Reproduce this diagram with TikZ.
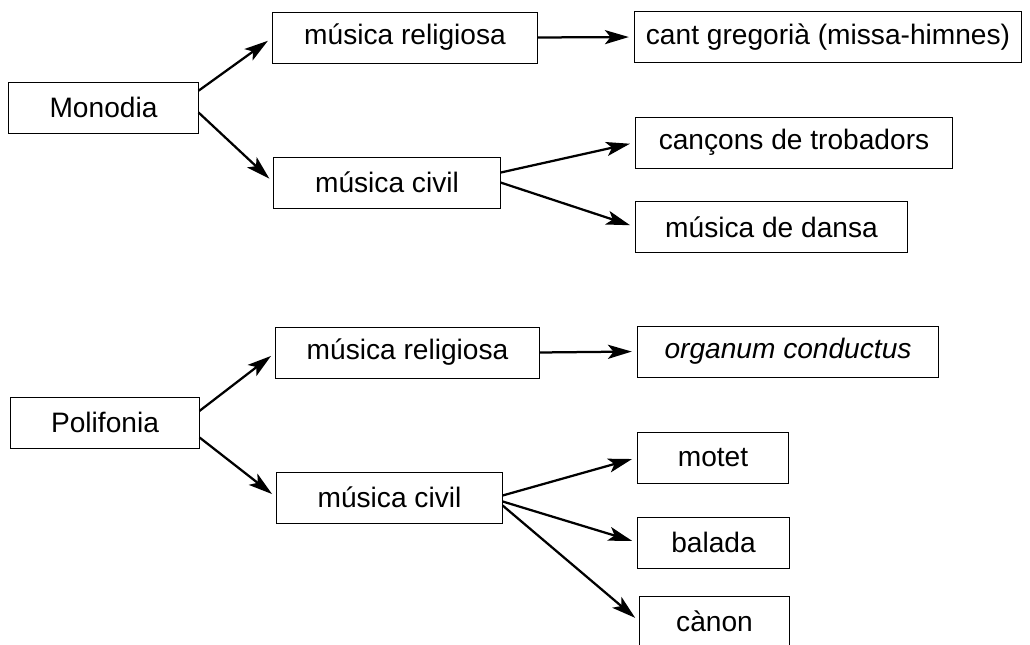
\documentclass[tikz,border=0pt]{standalone}
\usepackage{fontspec}
\setmainfont{Liberation Sans}
\usetikzlibrary{arrows.meta}

\begin{document}
\begin{tikzpicture}[x=0.025cm,y=-0.025cm,
  font=\fontsize{20}{24}\selectfont,
  box/.style={draw,line width=0.7pt,minimum height=1.275cm,inner sep=0pt},
  arr/.style={-{Stealth[length=17pt,width=10pt,inset=4pt]},line width=1.6pt,shorten >=4pt}]
\useasboundingbox (0,0) rectangle (1030,644);

\node[box,minimum width=4.725cm] (mono) at (103.5,107.5) {Monodia};
\node[box,minimum width=6.6cm] (relA) at (405,37.5) {música religiosa};
\node[box,minimum width=9.65cm] (greg) at (828,37) {cant gregorià (missa-himnes)};
\node[box,minimum width=5.65cm] (civA) at (387,182.5) {música civil};
\node[box,minimum width=7.9cm] (trob) at (794,142.5) {cançons de trobadors};
\node[box,minimum width=6.775cm] (dansa) at (771.5,227) {música de dansa};

\node[box,minimum width=4.7cm] (poli) at (105,422.5) {Polifonia};
\node[box,minimum width=6.575cm] (relB) at (407.5,352.5) {música religiosa};
\node[box,minimum width=7.5cm] (organ) at (788,351.5) {\itshape organum conductus};
\node[box,minimum width=5.625cm] (civB) at (389.5,497.5) {música civil};
\node[box,minimum width=3.75cm] (motet) at (713,457.5) {motet};
\node[box,minimum width=3.775cm] (balada) at (713.5,542.5) {balada};
\node[box,minimum width=3.725cm] (canon) at (714.5,621.5) {cànon};

\draw[arr] (mono.10) -- (relA.west);
\draw[arr] (mono.-3) -- (civA.west);
\draw[arr] (relA.east) -- (greg.west);
\draw[arr] (civA.5) -- (trob.west);
\draw[arr] (civA.east) -- (dansa.west);

\draw[arr] (poli.7) -- (relB.west);
\draw[arr] (poli.-9) -- (civB.west);
\draw[arr] (relB.east) -- (organ.west);
\draw[arr] (civB.1) -- (motet.west);
\draw[arr] (civB.-2) -- (balada.west);
\draw[arr] (civB.-4) -- (canon.west);

\end{tikzpicture}
\end{document}
